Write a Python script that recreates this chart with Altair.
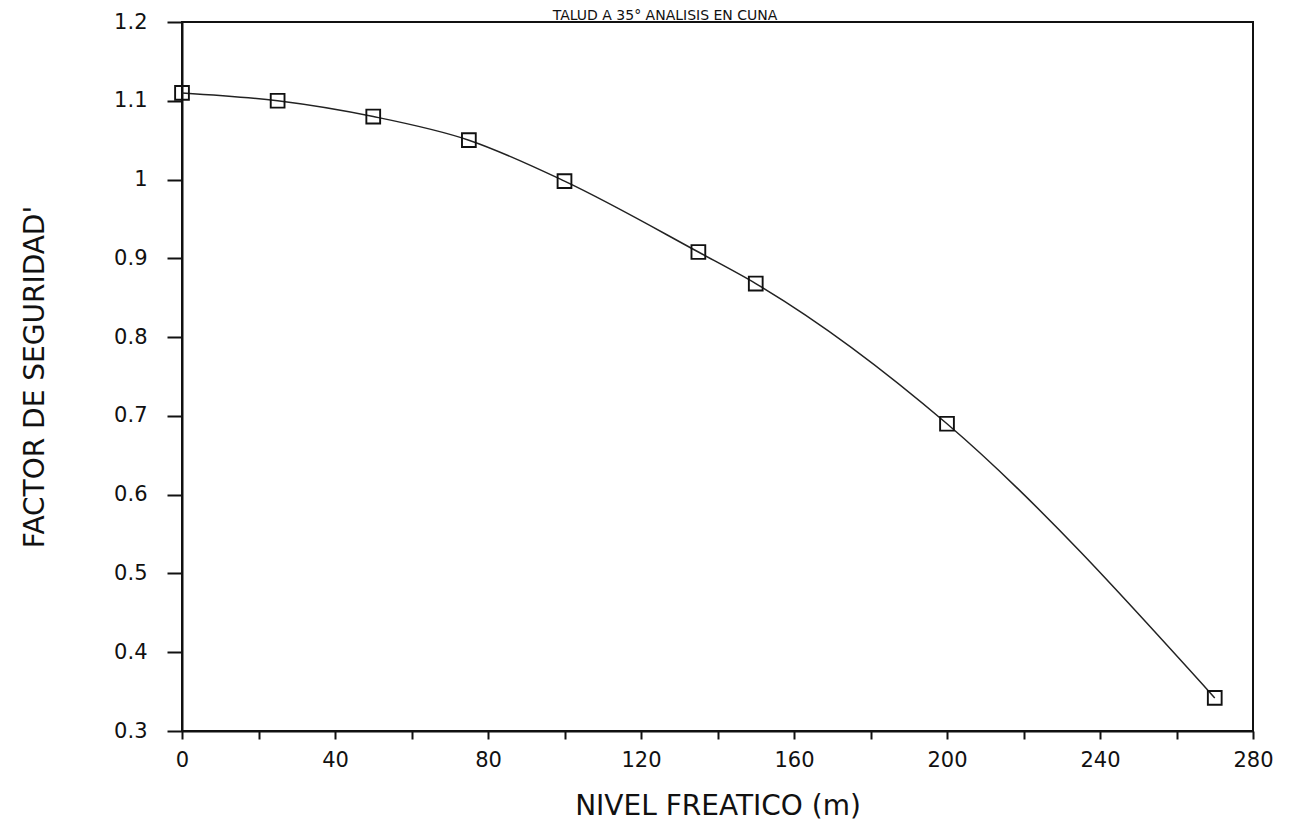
import altair as alt
import pandas as pd

# Data
nivel = [0, 25, 50, 75, 100, 135, 150, 200, 270]
factor = [1.11, 1.10, 1.08, 1.05, 0.998, 0.908, 0.868, 0.69, 0.342]
x_ticks = [0, 20, 40, 60, 80, 100, 120, 140, 160, 180, 200, 220, 240, 260, 280]
y_ticks = [0.3, 0.4, 0.5, 0.6, 0.7, 0.8, 0.9, 1.0, 1.1, 1.2]
title_text = ["TALUD A 35° ANALISIS EN CUÑA"]

df = pd.DataFrame({"nivel": nivel, "factor": factor})

FONT = "DejaVu Sans"
INK = "#111"

x_enc = alt.X(
    "nivel:Q",
    scale=alt.Scale(domain=[0, 280], nice=False, zero=False),
    axis=alt.Axis(
        values=x_ticks,
        labelExpr="datum.value % 40 == 0 ? datum.label : ''",
        labelFlush=False,
        labelOverlap=False,
        title="NIVEL FREATICO (m)",
        titleFontSize=28,
        titleFont=FONT,
        titleFontWeight="normal",
        titlePadding=22,
        labelFontSize=21,
        labelFont=FONT,
        labelPadding=10,
        tickSize=8,
        tickWidth=2,
        grid=False,
        domainWidth=2,
        domainColor=INK,
        tickColor=INK,
        labelColor=INK,
        titleColor=INK,
    ),
)
y_enc = alt.Y(
    "factor:Q",
    scale=alt.Scale(domain=[0.3, 1.2], nice=False, zero=False),
    axis=alt.Axis(
        values=y_ticks,
        format="~g",
        labelFlush=False,
        labelOverlap=False,
        title="FACTOR DE SEGURIDAD'",
        titleFontSize=28,
        titleFont=FONT,
        titleFontWeight="normal",
        titlePadding=64,
        labelFontSize=21,
        labelFont=FONT,
        labelPadding=20,
        tickSize=15,
        tickWidth=2,
        grid=False,
        domainWidth=2,
        domainColor=INK,
        tickColor=INK,
        labelColor=INK,
        titleColor=INK,
    ),
)

line = alt.Chart(df).mark_line(
    color="#222", strokeWidth=1.5, interpolate="monotone"
).encode(x=x_enc, y=y_enc)

points = alt.Chart(df).mark_point(
    shape="square", size=190, filled=False, color=INK, strokeWidth=1.9, opacity=1
).encode(x="nivel:Q", y="factor:Q")

title = alt.Chart(pd.DataFrame({"t": title_text})).mark_text(
    font=FONT, fontSize=14, color=INK, baseline="alphabetic", align="center"
).encode(text="t:N", x=alt.value(483), y=alt.value(-2))

chart = (
    alt.layer(line, points, title)
    .properties(
        width=1071,
        height=709,
        autosize=alt.AutoSizeParams(type="none"),
        padding={"left": 174, "top": 14, "right": 24, "bottom": 90},
    )
    .configure(background="white", view=alt.ViewConfig(stroke=INK, strokeWidth=2))
)

chart.save("out.html", embed_options={"renderer": "svg", "actions": False})
